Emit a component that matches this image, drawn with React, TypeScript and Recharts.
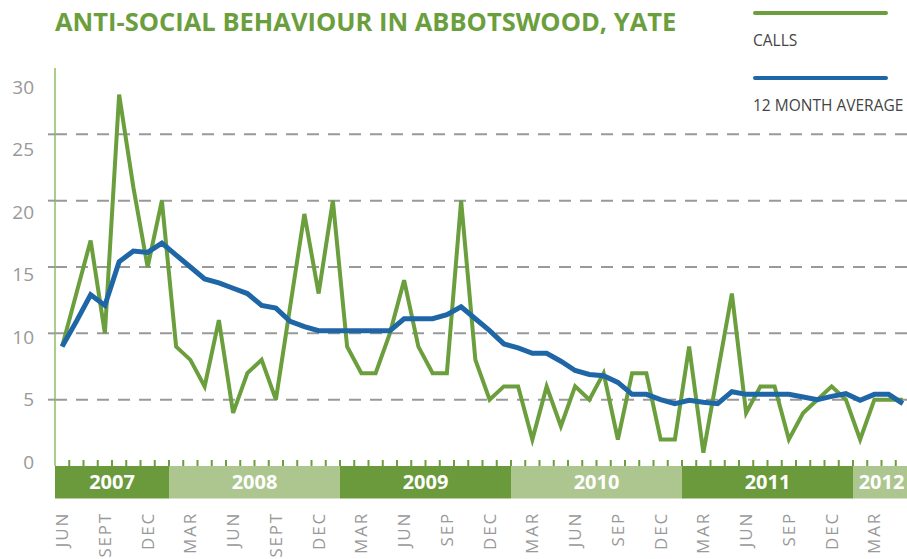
import { LineChart, Line, XAxis, YAxis, CartesianGrid, Legend, ReferenceArea } from "recharts";

// monthly calls, Jun 2007 – May 2012
const calls = [
  9, 13, 17, 10, 28, 21, 15, 20, 9, 8, 6, 11,
  4, 7, 8, 5, 12, 19, 13, 20, 9, 7, 7, 10,
  14, 9, 7, 7, 20, 8, 5, 6, 6, 2, 6, 3,
  6, 5, 7, 2, 7, 7, 2, 2, 9, 1, 7, 13,
  4, 6, 6, 2, 4, 5, 6, 5, 2, 5, 5, 5,
];

// 12 month rolling average
const average = [
  9, 10.9, 12.9, 12.1, 15.4, 16.2, 16.1, 16.8, 15.9, 15.0, 14.1, 13.8,
  13.4, 13.0, 12.1, 11.9, 10.9, 10.5, 10.2, 10.2, 10.2, 10.2, 10.2, 10.2,
  11.1, 11.1, 11.1, 11.4, 12.0, 11.1, 10.2, 9.2, 8.9, 8.5, 8.5, 7.9,
  7.2, 6.9, 6.8, 6.3, 5.4, 5.4, 5.0, 4.7, 4.95, 4.8, 4.7, 5.6,
  5.4, 5.4, 5.4, 5.4, 5.2, 5.0, 5.25, 5.45, 4.95, 5.4, 5.4, 4.7,
];

// labels every third month, starting with Jun 2007
const monthLabels = [
  "JUN", "SEPT", "DEC", "MAR", "JUN", "SEPT", "DEC", "MAR", "JUN", "SEP",
  "DEC", "MAR", "JUN", "SEP", "DEC", "MAR", "JUN", "SEP", "DEC", "MAR",
];

const years = ["2007", "2008", "2009", "2010", "2011", "2012"];
const yearStarts = [-0.5, 7.5, 19.5, 31.5, 43.5, 55.5];
const yearEnds = [7.5, 19.5, 31.5, 43.5, 55.5, 59.5];

const yTicks = [0, 5, 10, 15, 20, 25, 30];
const seriesOrder = ["calls", "avg"];

const data = calls.map((c, i) => ({ i, calls: c, avg: average[i] }));
const labelTicks = monthLabels.map((_, k) => k * 3);
const minorTicks = calls.slice(1).map((_, i) => i + 0.5);

const GREEN = "#6b9e3c";
const BLUE = "#1f66a6";
const GREY = "#999";

function XTick(props: any) {
  const { x, y, payload } = props;
  const v = payload.value;
  if (!Number.isInteger(v)) {
    return <line x1={x} x2={x} y1={y - 6} y2={y} stroke={GREEN} strokeWidth={2} />;
  }
  const ly = y + 46;
  return (
    <text
      x={x}
      y={ly}
      dy="0.36em"
      transform={`rotate(-90 ${x} ${ly})`}
      textAnchor="end"
      fontSize={17}
      letterSpacing={1.8}
      fill={GREY}
    >
      {monthLabels[v / 3]}
    </text>
  );
}

function YTick(props: any) {
  const { x, y, payload } = props;
  const v = payload.value;
  // printed labels drift slightly from the grid in the original
  const shift = -4 + v * 0.77;
  return (
    <g>
      {v > 0 && v < 30 && <line x1={x - 7} x2={x} y1={y} y2={y} stroke={GREY} strokeWidth={2} />}
      <text x={x - 21} y={y + shift} dy="0.36em" textAnchor="end" fontSize={19} fill={GREY}>
        {v}
      </text>
    </g>
  );
}

function LegendBox(props: any) {
  const items = [...props.payload].sort(
    (a: any, b: any) => seriesOrder.indexOf(a.dataKey) - seriesOrder.indexOf(b.dataKey)
  );
  return (
    <div>
      {items.map((p: any) => (
        <div key={p.value} style={{ height: 54 }}>
          <div style={{ marginTop: 11, width: 135, height: 4, borderRadius: 2, background: p.color }} />
          <div style={{ marginTop: 15, lineHeight: "20px", fontSize: 15.5, color: "#444", whiteSpace: "nowrap" }}>
            {p.value}
          </div>
        </div>
      ))}
    </div>
  );
}

export default function App() {
  return (
    <div
      style={{
        position: "absolute",
        left: 0,
        top: 0,
        width: 907,
        height: 559,
        overflow: "hidden",
        background: "#fff",
        fontFamily: "'Open Sans', sans-serif",
      }}
    >
      <div
        style={{
          position: "absolute",
          left: 55,
          top: 4,
          fontSize: 25.5,
          fontWeight: 700,
          color: GREEN,
          whiteSpace: "nowrap",
          zIndex: 2,
        }}
      >
        ANTI-SOCIAL BEHAVIOUR IN ABBOTSWOOD, YATE
      </div>
      <LineChart width={920} height={559} data={data} margin={{ top: 68, right: 10, left: 0, bottom: 0 }}>
        <CartesianGrid vertical={false} horizontalValues={[5, 10, 15, 20, 25]} stroke={GREY} strokeWidth={2} strokeDasharray="12 9" />
        <XAxis
          type="number"
          dataKey="i"
          domain={[-0.5, 59.5]}
          ticks={[...labelTicks, ...minorTicks]}
          interval={0}
          height={93}
          axisLine={false}
          tickLine={false}
          tickSize={0}
          tickMargin={0}
          tick={<XTick />}
        />
        <YAxis
          domain={[0, 30]}
          ticks={yTicks}
          width={55}
          axisLine={{ stroke: "#8fbd63", strokeWidth: 1.5 }}
          tickLine={false}
          tickSize={0}
          tickMargin={0}
          tick={<YTick />}
        />
        {years.map((yr, k) => (
          <ReferenceArea
            key={yr}
            x1={yearStarts[k]}
            x2={yearEnds[k]}
            y1={-2.45}
            y2={0}
            ifOverflow="visible"
            fill={k % 2 === 0 ? "#6a9a3b" : "#adc68f"}
            fillOpacity={1}
            stroke="none"
            label={{ value: yr, position: "center", fill: "#fff", fontSize: 20, fontWeight: 700 }}
          />
        ))}
        <Legend
          layout="vertical"
          align="center"
          verticalAlign="middle"
          wrapperStyle={{ top: 0, left: 753, width: 200 }}
          content={<LegendBox />}
        />
        <Line
          type="linear"
          dataKey="calls"
          name="CALLS"
          stroke={GREEN}
          strokeWidth={4}
          dot={false}
          isAnimationActive={false}
        />
        <Line
          type="linear"
          dataKey="avg"
          name="12 MONTH AVERAGE"
          stroke={BLUE}
          strokeWidth={5}
          dot={false}
          isAnimationActive={false}
        />
      </LineChart>
    </div>
  );
}
